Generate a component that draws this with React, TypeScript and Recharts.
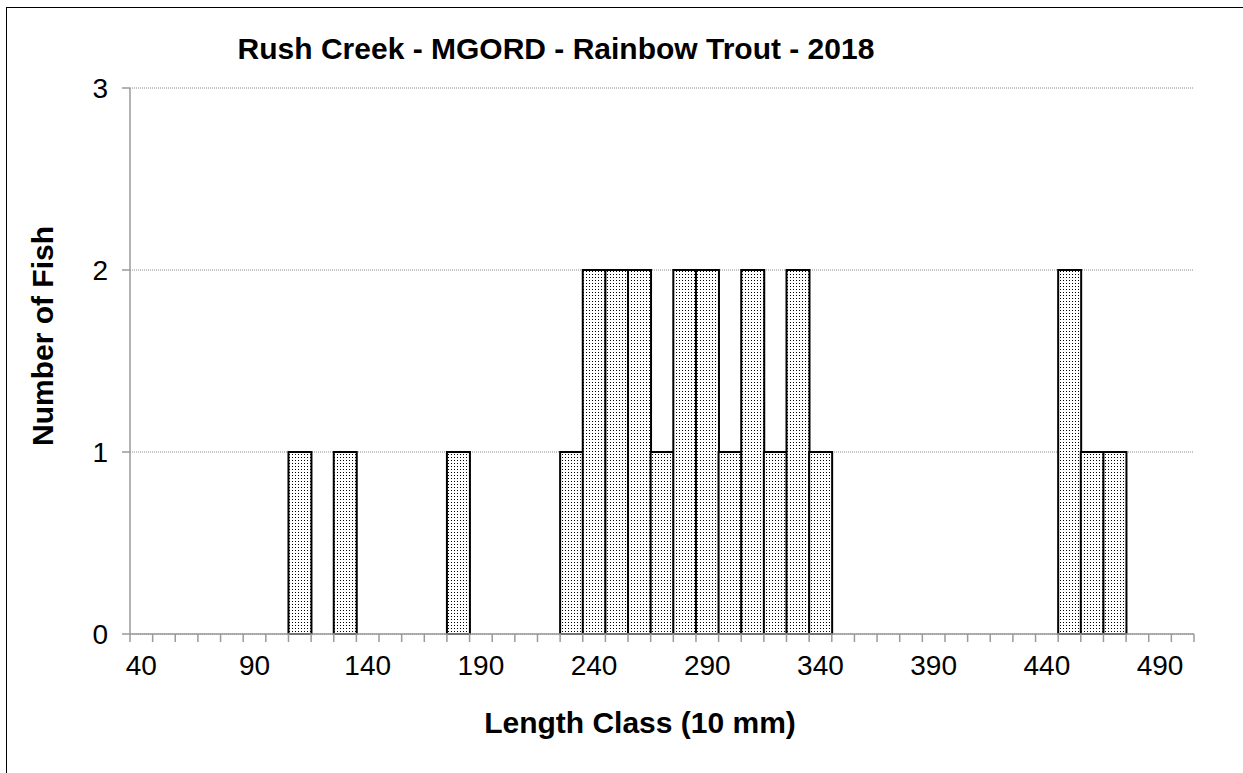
import React from 'react';
import { BarChart, Bar, XAxis, YAxis, CartesianGrid } from 'recharts';

// Length classes (10 mm bins)
const lengthClasses = [
  40, 50, 60, 70, 80, 90, 100, 110, 120, 130,
  140, 150, 160, 170, 180, 190, 200, 210, 220, 230,
  240, 250, 260, 270, 280, 290, 300, 310, 320, 330,
  340, 350, 360, 370, 380, 390, 400, 410, 420, 430,
  440, 450, 460, 470, 480, 490, 500,
];

// Number of fish per length class
const fishCounts = [
  0, 0, 0, 0, 0, 0, 0, 1, 0, 1,
  0, 0, 0, 0, 1, 0, 0, 0, 0, 1,
  2, 2, 2, 1, 2, 2, 1, 2, 1, 2,
  1, 0, 0, 0, 0, 0, 0, 0, 0, 0,
  0, 2, 1, 1, 0, 0, 0,
];

const yTicks = [0, 1, 2, 3];
const labelEvery = 5;

const title = 'Rush Creek - MGORD - Rainbow Trout - 2018';
const xTitle = 'Length Class (10 mm)';
const yTitle = 'Number of Fish';

const data = lengthClasses.map((len, i) => ({ len, count: fishCounts[i] }));

const W = 1243;
const H = 773;
const MARGIN = { top: 88, right: 49, bottom: 0, left: 0 };
const Y_AXIS_W = 130;
const X_AXIS_H = 139;
const PLOT_W = W - MARGIN.left - MARGIN.right - Y_AXIS_W;
const BAND = PLOT_W / lengthClasses.length;
const AXIS = '#9a9a9a';
const FONT = '"Liberation Sans", Arial, sans-serif';

const XTick = (props: any) => {
  const { x, y, payload, index } = props;
  const half = BAND / 2;
  const last = index === lengthClasses.length - 1;
  return (
    <g>
      <line x1={x - half} x2={x - half} y1={y} y2={y + 8} stroke={AXIS} strokeWidth={1.5} />
      {last && <line x1={x + half} x2={x + half} y1={y} y2={y + 8} stroke={AXIS} strokeWidth={1.5} />}
      {index % labelEvery === 0 && (
        <text x={x} y={y + 41} textAnchor="middle" fontSize={28} fill="#000" fontFamily={FONT}>
          {payload.value}
        </text>
      )}
    </g>
  );
};

export default function App() {
  return (
    <div style={{ position: 'absolute', left: 0, top: 0, width: W, height: H, background: '#fff', overflow: 'hidden', fontFamily: FONT }}>
      <svg width={0} height={0} style={{ position: 'absolute' }}>
        <defs>
          <pattern id="dots" patternUnits="userSpaceOnUse" width={3} height={3}>
            <rect x={0} y={0} width={3} height={3} fill="#fff" />
            <rect x={1} y={1} width={1} height={1} fill="#000" />
          </pattern>
        </defs>
      </svg>
      <div style={{ position: 'absolute', left: 6, top: 7, width: W, height: H, borderLeft: '1.5px solid #000', borderTop: '1.5px solid #000' }} />
      <div style={{ position: 'absolute', left: 0, top: 0 }}>
        <BarChart width={W} height={H} data={data} margin={MARGIN} barCategoryGap={0} barGap={0}>
          <CartesianGrid vertical={false} stroke="#8a8a8a" strokeDasharray="1 1" />
          <XAxis
            dataKey="len"
            interval={0}
            height={X_AXIS_H}
            tickLine={false}
            tickSize={0}
            tickMargin={0}
            axisLine={{ stroke: AXIS, strokeWidth: 1.5 }}
            tick={<XTick />}
          />
          <YAxis
            width={Y_AXIS_W}
            domain={[0, 3]}
            ticks={yTicks}
            interval={0}
            tickSize={8}
            tickMargin={14}
            axisLine={{ stroke: AXIS, strokeWidth: 1.5 }}
            tickLine={{ stroke: AXIS, strokeWidth: 1.5 }}
            tick={{ fill: '#000', fontSize: 28, fontFamily: FONT }}
          />
          <Bar dataKey="count" fill="url(#dots)" stroke="#000" strokeWidth={2} isAnimationActive={false} />
        </BarChart>
      </div>
      <svg width={W} height={H} style={{ position: 'absolute', left: 0, top: 0, pointerEvents: 'none' }}>
        <text x={556} y={59} textAnchor="middle" fontSize={30} fontWeight="bold" fontFamily={FONT} fill="#000">{title}</text>
        <text x={640} y={733} textAnchor="middle" fontSize={30} fontWeight="bold" fontFamily={FONT} fill="#000">{xTitle}</text>
        <text x={53} y={336} textAnchor="middle" fontSize={30} fontWeight="bold" fontFamily={FONT} fill="#000" transform="rotate(-90 53 336)">{yTitle}</text>
      </svg>
    </div>
  );
}
